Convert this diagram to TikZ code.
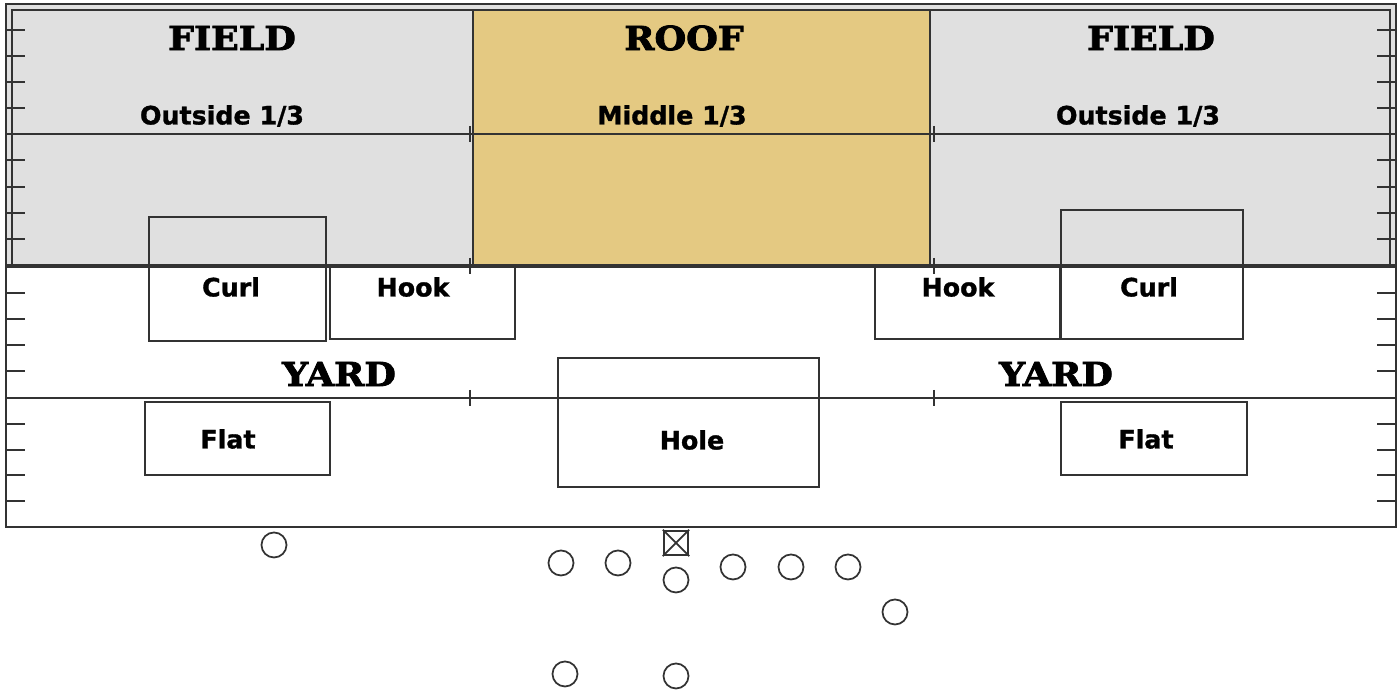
\documentclass[tikz,border=0pt]{standalone}
\usepackage{fontspec}
\usetikzlibrary{positioning}
\newfontfamily\zonefont{DejaVu Sans}[BoldFeatures={FakeBold=1.2}]
\newfontfamily\headfont{DejaVu Serif}[UprightFont={* Bold}, FakeStretch=1.1, FakeBold=2.5]
\definecolor{fieldGray}{HTML}{E0E0E0}
\definecolor{roofGold}{HTML}{E4C982}
\definecolor{lineGray}{HTML}{333333}

\begin{document}
\begin{tikzpicture}[x=0.01cm, y=-0.01cm,
    zone/.style={draw=lineGray, line width=0.5pt},
    head/.style={font=\headfont\fontsize{9.4}{11}\selectfont, inner sep=0pt},
    lbl/.style={font=\zonefont\bfseries\fontsize{7.2}{8.5}\selectfont, inner sep=0pt},
    man/.style={circle, draw=lineGray, line width=0.5pt, minimum size=2.5mm, inner sep=0pt}]
    \useasboundingbox (0,0) rectangle (1399,692);
    % field and roof
    \fill[fieldGray] (6,4) rectangle (1396,266);
    \fill[roofGold] (473,10) rectangle (930,266);
    \draw[zone] (12,266) -- (12,10) -- (1390,10) -- (1390,266);
    \draw[zone] (473,10) -- (473,266) (930,10) -- (930,266);
    \draw[zone] (6,4) rectangle (1396,527);
    \draw[zone] (6,134) -- (1396,134);
    \draw[zone, line width=1pt] (6,266) -- (1396,266);
    \draw[zone] (6,398) -- (1396,398);
    \foreach \y in {30,56,82,108,160,187,213,239,293,319,345,371,424,450,475,501}
      \draw[zone] (6,\y) -- (25,\y) (1377,\y) -- (1396,\y);
    \foreach \x in {470,934} \foreach \y in {134,266,398}
      \draw[zone] (\x,\y-8) -- (\x,\y+8);
    % zones
    \draw[zone] (149,217) rectangle (326,341);
    \draw[zone] (330,266) rectangle (515,339);
    \draw[zone] (875,266) rectangle (1060,339);
    \draw[zone] (1061,210) rectangle (1243,339);
    \draw[zone] (145,402) rectangle (330,475);
    \draw[zone] (1061,402) rectangle (1247,475);
    \draw[zone] (558,358) rectangle (819,487);
    \node[head] (fieldL) at (232,38) {FIELD};
    \node[head] (roof)   at (684,38) {ROOF};
    \node[head] (fieldR) at (1151,38) {FIELD};
    \node[lbl] (outL) at (222,116) {Outside 1/3};
    \node[lbl] (mid)  at (672,116) {Middle 1/3};
    \node[lbl] (outR) at (1138,116) {Outside 1/3};
    \node[lbl] (curlL) at (231,287) {Curl};
    \node[lbl] (hookL) at (413,287) {Hook};
    \node[lbl] (hookR) at (958,287) {Hook};
    \node[lbl] (curlR) at (1149,287) {Curl};
    \node[head] (yardL) at (339,374) {YARD};
    \node[head] (yardR) at (1056,374) {YARD};
    \node[lbl] (flatL) at (228,439) {Flat};
    \node[lbl] (hole)  at (692,440) {Hole};
    \node[lbl] (flatR) at (1146,439) {Flat};
    % offense
    \node[draw=lineGray, line width=0.7pt, minimum size=2.4mm, inner sep=0pt] (ctr) at (676,543) {};
    \draw[zone] (ctr.north west) -- (ctr.south east) (ctr.north east) -- (ctr.south west);
    \node[man] (wrL) at (274,545) {};
    \node[man] (lt)  at (561,563) {};
    \node[man] (lg)  at (618,563) {};
    \node[man] (qb)  at (676,580) {};
    \node[man] (rg)  at (733,567) {};
    \node[man] (rt)  at (791,567) {};
    \node[man] (te)  at (848,567) {};
    \node[man] (wrR) at (895,612) {};
    \node[man] (hbL) at (565,674) {};
    \node[man] (hb)  at (676,676) {};
  \end{tikzpicture}
\end{document}
